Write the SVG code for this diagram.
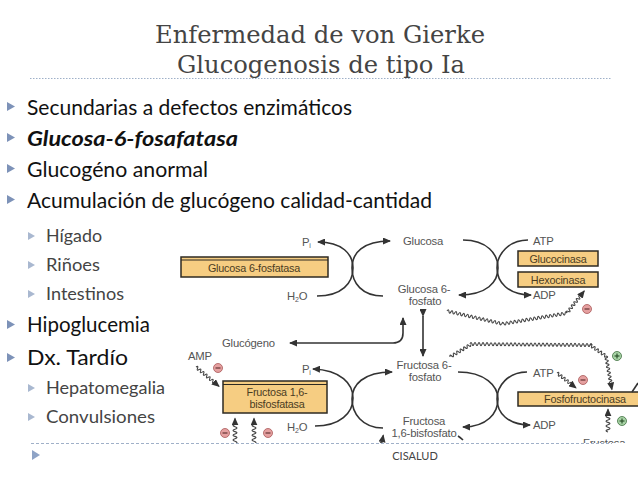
<svg xmlns="http://www.w3.org/2000/svg" width="638" height="479" viewBox="0 0 638 479">
<style>
.title{font-family:"DejaVu Serif","Liberation Serif",serif;font-size:23.5px;fill:#444;}
.b1{font-family:Lato,"Liberation Sans",sans-serif;font-size:21.5px;fill:#111;}
.b2{font-family:Lato,"Liberation Sans",sans-serif;font-size:18px;fill:#444;}
.tri1{fill:#7d92b8;}
.tri2{fill:#a9b8d0;}
.dt{font-family:"Liberation Sans",Arial,sans-serif;font-size:11.3px;fill:#555;letter-spacing:-0.2px;}
.bt{font-family:"Liberation Sans",Arial,sans-serif;font-size:10.8px;fill:#4a3c22;letter-spacing:-0.2px;text-anchor:middle;}
.box{fill:#f6cd82;stroke:#2e2a22;stroke-width:1.5;}
.ln{fill:none;stroke:#333;stroke-width:1.6;}
.wv{fill:none;stroke:#444;stroke-width:1.1;}
.mi{fill:#e5a0a0;stroke:#a85858;stroke-width:0.8;}
.pl{fill:#a8d3a6;stroke:#3f6e3f;stroke-width:0.8;}
.sg{stroke:#5a2a2a;stroke-width:1.1;}
.sgp{stroke:#244a24;stroke-width:1.1;}
</style>
<defs>
<marker id="ah" viewBox="0 0 8 7" refX="7" refY="3.5" markerWidth="8" markerHeight="7" markerUnits="userSpaceOnUse" orient="auto">
<path d="M0,0 L8,3.5 L0,7 z" fill="#333"/>
</marker>
<clipPath id="dc"><rect x="0" y="0" width="638" height="443"/></clipPath>
</defs>

<g id="title">
<text class="title" x="155" y="43" textLength="330" lengthAdjust="spacingAndGlyphs">Enfermedad de von Gierke</text>
<text class="title" x="177" y="73" textLength="288" lengthAdjust="spacingAndGlyphs">Glucogenosis de tipo Ia</text>
<line x1="30" y1="78.5" x2="612" y2="78.5" stroke="#9fb0c8" stroke-width="1" stroke-dasharray="1.5,1.5"/>
</g>

<g id="bullets">
<path class="tri1" d="M7,102 L15,106.5 L7,111 z"/>
<text class="b1" x="27" y="115" textLength="325" lengthAdjust="spacingAndGlyphs">Secundarias a defectos enzimáticos</text>
<path class="tri1" d="M7,133 L15,137.5 L7,142 z"/>
<text class="b1" x="27" y="146" textLength="211" lengthAdjust="spacingAndGlyphs" font-weight="bold" font-style="italic">Glucosa-6-fosafatasa</text>
<path class="tri1" d="M7,164 L15,168.5 L7,173 z"/>
<text class="b1" x="27" y="177" textLength="181" lengthAdjust="spacingAndGlyphs">Glucogéno anormal</text>
<path class="tri1" d="M7,195 L15,199.5 L7,204 z"/>
<text class="b1" x="27" y="208" textLength="405" lengthAdjust="spacingAndGlyphs">Acumulación de glucógeno calidad-cantidad</text>
<path class="tri2" d="M28,232 L35,236 L28,240 z"/>
<text class="b2" x="46" y="242" textLength="56" lengthAdjust="spacingAndGlyphs">Hígado</text>
<path class="tri2" d="M28,261 L35,265 L28,269 z"/>
<text class="b2" x="46" y="271" textLength="54" lengthAdjust="spacingAndGlyphs">Riñoes</text>
<path class="tri2" d="M28,290 L35,294 L28,298 z"/>
<text class="b2" x="46" y="300" textLength="78" lengthAdjust="spacingAndGlyphs">Intestinos</text>
<path class="tri1" d="M7,320 L15,324.5 L7,329 z"/>
<text class="b1" x="27" y="332" textLength="123" lengthAdjust="spacingAndGlyphs">Hipoglucemia</text>
<path class="tri1" d="M7,353 L15,357.5 L7,362 z"/>
<text class="b1" x="27" y="365" textLength="101" lengthAdjust="spacingAndGlyphs">Dx. Tardío</text>
<path class="tri2" d="M28,384 L35,388 L28,392 z"/>
<text class="b2" x="46" y="394" textLength="119" lengthAdjust="spacingAndGlyphs">Hepatomegalia</text>
<path class="tri2" d="M28,413 L35,417 L28,421 z"/>
<text class="b2" x="46" y="423" textLength="109" lengthAdjust="spacingAndGlyphs">Convulsiones</text>
</g>

<g id="diagram" clip-path="url(#dc)">
<g id="enzymes">
<g id="g6pase"><rect class="box" x="181" y="257" width="147" height="20"/><line x1="181" y1="260" x2="328" y2="260" stroke="#2e2a22" stroke-width="1"/><text class="bt" x="254" y="272">Glucosa 6-fosfatasa</text></g>
<g id="glucocinasa"><rect class="box" x="518" y="251" width="80" height="15"/><text class="bt" x="558" y="262.5">Glucocinasa</text></g>
<g id="hexocinasa"><rect class="box" x="518" y="272" width="80" height="15"/><text class="bt" x="558" y="283.5">Hexocinasa</text></g>
<g id="fbpase"><rect class="box" x="223" y="381" width="104" height="32" stroke-width="2"/><line x1="223" y1="384.5" x2="327" y2="384.5" stroke="#2e2a22" stroke-width="1"/><text class="bt" x="277" y="396">Fructosa 1,6-</text><text class="bt" x="277" y="408">bisfosfatasa</text></g>
<g id="pfk"><rect class="box" x="518" y="392" width="125" height="14"/><text class="bt" x="585" y="403">Fosfofructocinasa</text></g>
</g>

<g id="metabolites">
<text class="dt" x="302" y="246">P<tspan font-size="7" dy="2">i</tspan></text>
<text class="dt" x="287" y="300">H<tspan font-size="7" dy="2">2</tspan><tspan dy="-2">O</tspan></text>
<text class="dt" x="403" y="245">Glucosa</text>
<text class="dt" x="424" y="293" text-anchor="middle">Glucosa 6-</text>
<text class="dt" x="425" y="305" text-anchor="middle">fosfato</text>
<text class="dt" x="533" y="245">ATP</text>
<text class="dt" x="533" y="299">ADP</text>
<text class="dt" x="222" y="347">Glucógeno</text>
<text class="dt" x="188" y="360">AMP</text>
<text class="dt" x="302" y="373">P<tspan font-size="7" dy="2">i</tspan></text>
<text class="dt" x="287" y="431">H<tspan font-size="7" dy="2">2</tspan><tspan dy="-2">O</tspan></text>
<text class="dt" x="424" y="369" text-anchor="middle">Fructosa 6-</text>
<text class="dt" x="425" y="381" text-anchor="middle">fosfato</text>
<text class="dt" x="533" y="377">ATP</text>
<text class="dt" x="533" y="429">ADP</text>
<text class="dt" x="424" y="425" text-anchor="middle">Fructosa</text>
<text class="dt" x="424" y="437" text-anchor="middle">1,6-bisfosfato</text>
<text class="dt" x="583" y="447">Fructosa</text>
</g>

<g id="connectors">
<path class="ln" marker-end="url(#ah)" d="M317,296 C342,296 353,283 353,268 C353,254 342,242 318,242"/>
<path class="ln" marker-end="url(#ah)" d="M383,296 C362,296 352,283 352,268 C352,253 363,241 390,241"/>
<path class="ln" marker-end="url(#ah)" d="M463,240 C487,240 498,254 498,268 C498,282 487,295 459,295"/>
<path class="ln" marker-end="url(#ah)" d="M528,240 C509,240 497,254 497,268 C497,282 508,295 531,295"/>
<path class="ln" marker-end="url(#ah)" d="M315,426 C340,426 353,413 353,398 C353,384 341,370 313,369"/>
<path class="ln" marker-end="url(#ah)" d="M383,428 C362,428 352,413 352,399 C352,385 363,372 392,372"/>
<path class="ln" marker-end="url(#ah)" d="M458,372 C485,372 498,386 498,399 C498,413 487,427 463,427"/>
<path class="ln" marker-end="url(#ah)" d="M527,372 C508,372 497,386 497,399 C497,413 508,425 530,425"/>
<path class="ln" marker-end="url(#ah)" d="M393,343 L290,343"/>
<path class="ln" marker-end="url(#ah)" d="M393,343 C400,343 403,339 403,333 L403,318"/>
<path class="ln" marker-start="url(#ah)" marker-end="url(#ah)" d="M423,316 L423,356"/>
<path class="ln" d="M632,392 L638,383"/>
<path class="ln" d="M458,436 q3,2 5,4"/>

<g class="wv">
<path transform="translate(447,311) rotate(13)" d="M0,0 q1,-3 2,0 t2,0 t2,0 t2,0 t2,0 t2,0 t2,0 t2,0 t2,0 t2,0 t2,0 t2,0 t2,0 t2,0 t2,0 t2,0 t2,0 t2,0 t2,0 t2,0 t2,0 t2,0 t2,0 t2,0 t2,0 t2,0 t2,0 t2,0"/>
<path transform="translate(502,324) rotate(-9.5)" d="M0,0 q1,-3 2,0 t2,0 t2,0 t2,0 t2,0 t2,0 t2,0 t2,0 t2,0 t2,0 t2,0 t2,0 t2,0 t2,0 t2,0 t2,0 t2,0 t2,0 t2,0 t2,0 t2,0 t2,0 t2,0 t2,0 t2,0 t2,0 t2,0 t2,0 t2,0 t2,0 t2,0 t2,0 t2,0"/>
<path transform="translate(567,313) rotate(-52)" marker-end="url(#ah)" d="M0,0 q1,-3 2,0 t2,0 t2,0 t2,0 t2,0 t2,0 t2,0 t2,0 t2,0 t2,0 t2,0 l6,0"/>
<path transform="translate(450,357) rotate(-31)" d="M0,0 q1,-3 2,0 t2,0 t2,0 t2,0 t2,0 t2,0 t2,0 t2,0 t2,0 t2,0 t2,0 t2,0"/>
<path transform="translate(470,344) rotate(0.5)" d="M0,0 q1,-3 2,0 t2,0 t2,0 t2,0 t2,0 t2,0 t2,0 t2,0 t2,0 t2,0 t2,0 t2,0 t2,0 t2,0 t2,0 t2,0 t2,0 t2,0 t2,0 t2,0 t2,0 t2,0 t2,0 t2,0 t2,0 t2,0 t2,0 t2,0 t2,0 t2,0 t2,0 t2,0 t2,0 t2,0 t2,0 t2,0 t2,0 t2,0 t2,0 t2,0 t2,0 t2,0 t2,0 t2,0 t2,0 t2,0 t2,0 t2,0 t2,0 t2,0 t2,0 t2,0 t2,0 t2,0 t2,0 t2,0 t2,0 t2,0 t2,0 t2,0 t2,0"/>
<path transform="translate(590,345) rotate(35)" d="M0,0 q1,-3 2,0 t2,0 t2,0 t2,0 t2,0 t2,0 t2,0 t2,0 t2,0 t2,0"/>
<path transform="translate(606,356) rotate(80)" marker-end="url(#ah)" d="M0,0 q1,-3 2,0 t2,0 t2,0 t2,0 t2,0 t2,0 t2,0 t2,0 t2,0 t2,0 t2,0 t2,0 t2,0 t2,0 l6,0"/>
<path transform="translate(557,373) rotate(38)" marker-end="url(#ah)" d="M0,0 q1,-3 2,0 t2,0 t2,0 t2,0 t2,0 t2,0 t2,0 t2,0 t2,0 l6,0"/>
<path transform="translate(196,367) rotate(40)" marker-end="url(#ah)" d="M0,0 q1,-3 2,0 t2,0 t2,0 t2,0 t2,0 t2,0 t2,0 t2,0 t2,0 t2,0 t2,0 t2,0 l6,0"/>
<path transform="translate(235,446) rotate(-90)" marker-end="url(#ah)" d="M0,0 q1.2,-4 2.4,0 t2.4,0 t2.4,0 t2.4,0 t2.4,0 t2.4,0 t2.4,0 t2.4,0 t2.4,0 l6,0"/>
<path transform="translate(254,446) rotate(-90)" marker-end="url(#ah)" d="M0,0 q1.2,-4 2.4,0 t2.4,0 t2.4,0 t2.4,0 t2.4,0 t2.4,0 t2.4,0 t2.4,0 t2.4,0 l6,0"/>
<path transform="translate(608,432) rotate(-90)" marker-end="url(#ah)" d="M0,0 q1.2,-4 2.4,0 t2.4,0 t2.4,0 t2.4,0 t2.4,0 t2.4,0 t2.4,0 l6,0"/>
<path transform="translate(381,448) rotate(-80)" marker-end="url(#ah)" d="M0,0 q1,-3 2,0 t2,0 t2,0 t2,0 l5,0"/>
</g>
</g>

<g id="effectors">
<g><circle class="mi" cx="587" cy="309" r="4.5"/><line class="sg" x1="584.5" y1="309" x2="589.5" y2="309"/></g>
<g><circle class="mi" cx="218" cy="368" r="4.5"/><line class="sg" x1="215.5" y1="368" x2="220.5" y2="368"/></g>
<g><circle class="mi" cx="225" cy="433" r="4.5"/><line class="sg" x1="222.5" y1="433" x2="227.5" y2="433"/></g>
<g><circle class="mi" cx="268" cy="433" r="4.5"/><line class="sg" x1="265.5" y1="433" x2="270.5" y2="433"/></g>
<g><circle class="mi" cx="583" cy="380" r="4.5"/><line class="sg" x1="580.5" y1="380" x2="585.5" y2="380"/></g>
<g><circle class="pl" cx="617" cy="356" r="4.5"/><line class="sgp" x1="614.5" y1="356" x2="619.5" y2="356"/><line class="sgp" x1="617" y1="353.5" x2="617" y2="358.5"/></g>
<g><circle class="pl" cx="622" cy="421" r="4.5"/><line class="sgp" x1="619.5" y1="421" x2="624.5" y2="421"/><line class="sgp" x1="622" y1="418.5" x2="622" y2="423.5"/></g>
</g>
</g>

<g id="footer">
<line x1="31" y1="443.5" x2="612" y2="443.5" stroke="#a0b0c8" stroke-width="1" stroke-dasharray="3,2"/>
<path d="M32,450 L40,455 L32,460 z" fill="#8ea3c6"/>
<text x="415" y="460" text-anchor="middle" font-family="Lato,'Liberation Sans',sans-serif" font-size="11" fill="#444">CISALUD</text>
</g>
</svg>
